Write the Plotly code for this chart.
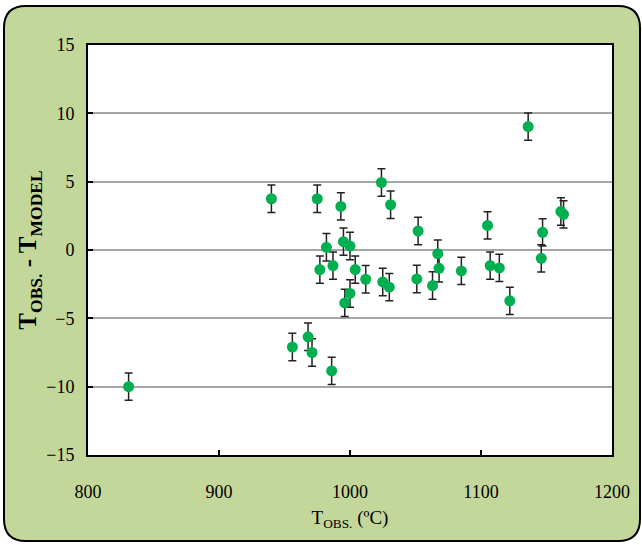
import plotly.graph_objects as go

t_obs = [831, 940, 956, 968, 971, 975, 977, 982, 986, 987, 993, 995, 996, 1000, 1000,
         1004, 1012, 1024, 1025, 1030, 1031, 1051, 1052, 1063, 1067, 1068, 1085, 1105,
         1107, 1114, 1122, 1136, 1146, 1147, 1161, 1163]
diff = [-10.0, 3.75, -7.1, -6.35, -7.5, 3.75, -1.43, 0.2, -8.85, -1.14, 3.19, 0.61, -3.87,
        0.29, -3.18, -1.43, -2.14, 4.94, -2.34, -2.72, 3.31, -2.12, 1.39, -2.6, -0.27,
        -1.34, -1.53, 1.80, -1.14, -1.31, -3.72, 9.03, -0.61, 1.29, 2.82, 2.61]
err = [1.0] * len(diff)

W, H = 642, 545
L, R, T, B = 88, 30, 45, 90
pw, ph = W - L - R, H - T - B

def px(x):
    return (x - L) / pw

def py(y):
    return (H - B - y) / ph

# rounded card
x0, x1, y0, y1, r = 4, 640, 6, 541, 22
path = (f"M {px(x0+r)},{py(y0)} L {px(x1-r)},{py(y0)} Q {px(x1)},{py(y0)} {px(x1)},{py(y0+r)} "
        f"L {px(x1)},{py(y1-r)} Q {px(x1)},{py(y1)} {px(x1-r)},{py(y1)} "
        f"L {px(x0+r)},{py(y1)} Q {px(x0)},{py(y1)} {px(x0)},{py(y1-r)} "
        f"L {px(x0)},{py(y0+r)} Q {px(x0)},{py(y0)} {px(x0+r)},{py(y0)} Z")

fig = go.Figure()
fig.add_trace(go.Scatter(
    x=t_obs, y=diff, mode="markers",
    marker=dict(color="#00B050", size=11),
    error_y=dict(type="data", array=err, visible=True, color="#222222", thickness=1.5, width=4),
    showlegend=False,
))

font = "Liberation Serif"
fig.update_layout(
    width=W, height=H,
    margin=dict(l=L, r=R, t=T, b=B),
    paper_bgcolor="white",
    plot_bgcolor="white",
    font=dict(family=font, color="black", size=18),
    shapes=[dict(type="path", path=path, xref="paper", yref="paper",
                 fillcolor="#C4D79B", line=dict(color="black", width=2), layer="below"),
            dict(type="rect", x0=0, x1=1, y0=0, y1=1, xref="paper", yref="paper",
                 fillcolor="white", line=dict(width=0), layer="below")],
    xaxis=dict(range=[800, 1200], tickvals=[800, 900, 1000, 1100, 1200],
               showgrid=False, zeroline=False, showline=True, linecolor="black",
               linewidth=2, mirror=True, ticks="inside", ticklen=5, tickcolor="black",
               tickwidth=1.5, ticklabelstandoff=19,
               title=dict(text="T<sub>OBS.</sub> (ºC)", font=dict(size=19), standoff=10)),
    yaxis=dict(range=[-15, 15], tickvals=[-15, -10, -5, 0, 5, 10, 15],
               showgrid=True, gridcolor="#A6A6A6", gridwidth=1.5, zeroline=False,
               showline=True, linecolor="black", linewidth=2, mirror=True,
               ticks="inside", ticklen=5, tickcolor="black", tickwidth=1.5,
               ticklabelstandoff=8,
               title=dict(text="<b>T<sub>OBS.</sub> - T<sub>MODEL</sub></b>",
                          font=dict(size=25), standoff=2)),
)

fig.write_html("out.html")
